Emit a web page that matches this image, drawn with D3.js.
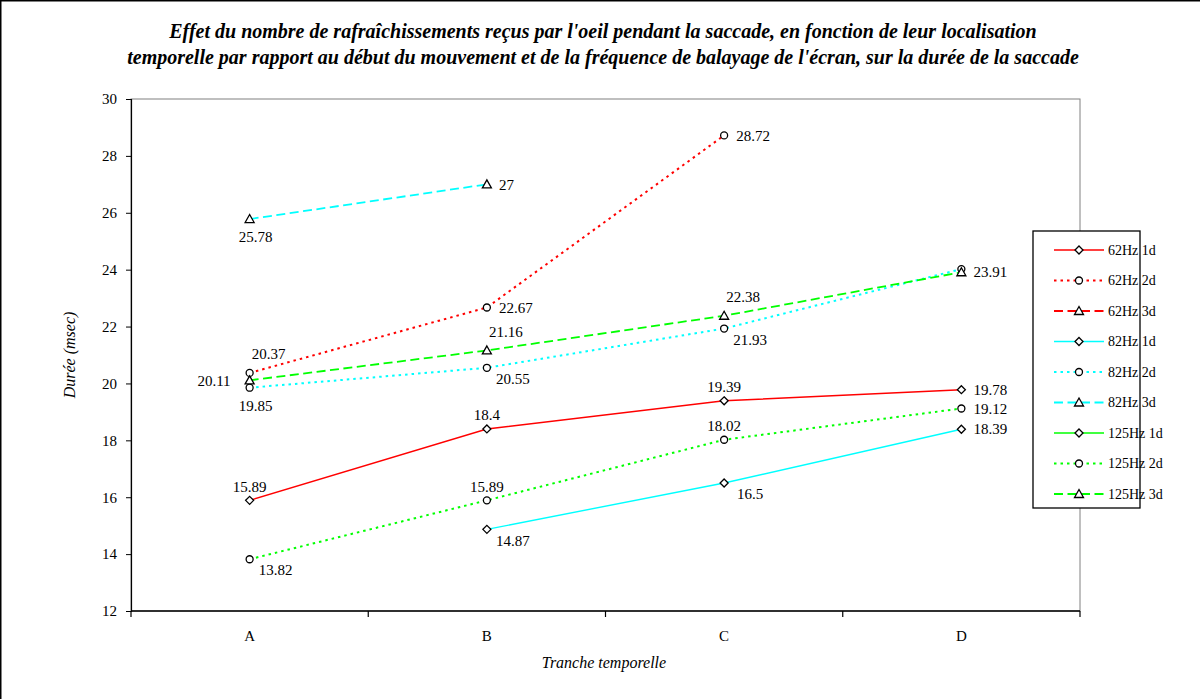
<!DOCTYPE html>
<html>
<head>
<meta charset="utf-8">
<script src="https://cdn.jsdelivr.net/npm/d3@7"></script>
<style>
  html, body { margin: 0; padding: 0; background: #fff; }
  svg { display: block; }
  text { font-family: "Liberation Serif", "Times New Roman", serif; fill: #000; }
</style>
</head>
<body>
<svg id="chart" width="1200" height="699"></svg>
<script>
// ---------- data ----------
const categories = ["A", "B", "C", "D"];
const yTicks = [12, 14, 16, 18, 20, 22, 24, 26, 28, 30];
const seriesNames = ["62Hz 1d", "62Hz 2d", "62Hz 3d", "82Hz 1d", "82Hz 2d", "82Hz 3d", "125Hz 1d", "125Hz 2d", "125Hz 3d"];

const v62_1d  = [15.89, 18.4, 19.39, 19.78];
const v62_2d  = [20.37, 22.67, 28.72, null];
const v62_3d  = [null, null, null, null];
const v82_1d  = [null, 14.87, 16.5, 18.39];
const v82_2d  = [19.85, 20.55, 21.93, 24.02];
const v82_3d  = [25.78, 27, null, null];
const v125_1d = [null, null, null, null];
const v125_2d = [13.82, 15.89, 18.02, 19.12];
const v125_3d = [20.11, 21.16, 22.38, 23.91];

// label placement for each point (null = no label)
const p62_1d  = ["above", "above", "above", "right"];
const p62_2d  = ["aboveRight", "right", "right", null];
const p62_3d  = [null, null, null, null];
const p82_1d  = [null, "belowRight", "belowRight", "right"];
const p82_2d  = ["below", "belowRight", "belowRight", null];
const p82_3d  = ["below", "right", null, null];
const p125_1d = [null, null, null, null];
const p125_2d = ["belowRight", "above", "above", "right"];
const p125_3d = ["left", "aboveRight", "aboveRight", "right"];

const seriesValues = [v62_1d, v62_2d, v62_3d, v82_1d, v82_2d, v82_3d, v125_1d, v125_2d, v125_3d];
const seriesPlacements = [p62_1d, p62_2d, p62_3d, p82_1d, p82_2d, p82_3d, p125_1d, p125_2d, p125_3d];

// ---------- styles ----------
const colors = { "62Hz": "#ff0000", "82Hz": "#00ffff", "125Hz": "#00ff00" };
const lineStyles = {
  "1d": { dash: null, width: 1.4, marker: "diamond" },
  "2d": { dash: "2.5,4", width: 2, marker: "circle" },
  "3d": { dash: "9,4.5", width: 1.8, marker: "triangle" }
};
const labelOffsets = {
  above: { dx: 0, dy: -14, anchor: "middle" },
  below: { dx: 6, dy: 18, anchor: "middle" },
  right: { dx: 12, dy: 0, anchor: "start" },
  left: { dx: -19, dy: 0, anchor: "end" },
  aboveRight: { dx: 19, dy: -19, anchor: "middle" },
  belowRight: { dx: 26, dy: 11, anchor: "middle" }
};

const series = seriesNames.map((name, i) => {
  const [freq, dim] = name.split(" ");
  return { name, color: colors[freq], style: lineStyles[dim], values: seriesValues[i], placements: seriesPlacements[i] };
});

// ---------- layout ----------
const svg = d3.select("#chart");
const W = 1200, H = 699;
const plot = { left: 131, right: 1080, top: 99, bottom: 611 };

svg.append("rect").attr("x", 0.5).attr("y", 0.5).attr("width", W + 5).attr("height", H + 5)
  .attr("fill", "#fff").attr("stroke", "#000").attr("stroke-width", 2);

const x = d3.scaleBand().domain(categories).range([plot.left, plot.right]).padding(0);
const y = d3.scaleLinear().domain([12, 30]).range([plot.bottom, plot.top]);
const cx = c => x(c) + x.bandwidth() / 2;

// plot area border (gray)
svg.append("rect").attr("x", plot.left).attr("y", plot.top)
  .attr("width", plot.right - plot.left).attr("height", plot.bottom - plot.top)
  .attr("fill", "#fff").attr("stroke", "#808080").attr("stroke-width", 1);

// title
const title = svg.append("text").attr("text-anchor", "middle")
  .style("font-weight", "bold").style("font-style", "italic").style("font-size", "20px");
title.append("tspan").attr("x", 603).attr("y", 38)
  .text("Effet du nombre de rafraîchissements reçus par l'oeil pendant la saccade, en fonction de leur localisation");
title.append("tspan").attr("x", 603).attr("y", 64)
  .text("temporelle par rapport au début du mouvement et de la fréquence de balayage de l'écran, sur la durée de la saccade");

// y axis
const yAxis = d3.axisLeft(y).tickValues(yTicks).tickSize(5).tickPadding(9).tickFormat(d3.format("d"));
const gy = svg.append("g").attr("transform", `translate(${plot.left},0)`).call(yAxis);
gy.select(".domain").attr("stroke", "#000").attr("stroke-width", 1.2);
gy.selectAll(".tick line").attr("stroke", "#000");
gy.selectAll(".tick text").style("font-size", "15px").style("font-family", "Liberation Serif, serif");

// x axis
const gx = svg.append("g").attr("transform", `translate(0,${plot.bottom})`);
gx.append("line").attr("x1", plot.left).attr("x2", plot.right).attr("y1", 0).attr("y2", 0)
  .attr("stroke", "#000").attr("stroke-width", 1.5);
const boundaries = categories.map(c => x(c)).concat([x(categories[categories.length - 1]) + x.bandwidth()]);
gx.selectAll("line.tk").data(boundaries).enter().append("line").attr("class", "tk")
  .attr("x1", d => d).attr("x2", d => d).attr("y1", 0).attr("y2", 6)
  .attr("stroke", "#000").attr("stroke-width", 1.2);
gx.selectAll("text.cat").data(categories).enter().append("text").attr("class", "cat")
  .attr("x", d => cx(d)).attr("y", 30).attr("text-anchor", "middle")
  .style("font-size", "15px").text(d => d);

// axis titles
svg.append("text").attr("x", 604).attr("y", 668).attr("text-anchor", "middle")
  .style("font-style", "italic").style("font-size", "16px").text("Tranche temporelle");
svg.append("text").attr("transform", "translate(75,355) rotate(-90)").attr("text-anchor", "middle")
  .style("font-style", "italic").style("font-size", "16px").text("Durée (msec)");

// markers
function drawMarker(g, type, px, py) {
  if (type === "diamond") {
    g.append("path").attr("d", `M${px},${py - 4}L${px + 4},${py}L${px},${py + 4}L${px - 4},${py}Z`)
      .attr("fill", "#fff").attr("stroke", "#000").attr("stroke-width", 1.3);
  } else if (type === "circle") {
    g.append("circle").attr("cx", px).attr("cy", py).attr("r", 3.5)
      .attr("fill", "#fff").attr("stroke", "#000").attr("stroke-width", 1.3);
  } else {
    g.append("path").attr("d", `M${px},${py - 4.5}L${px + 4.5},${py + 3.5}L${px - 4.5},${py + 3.5}Z`)
      .attr("fill", "#fff").attr("stroke", "#000").attr("stroke-width", 1.3);
  }
}

const line = d3.line().defined(d => d.v != null).x(d => cx(d.c)).y(d => y(d.v));
const gLines = svg.append("g");
const gMarks = svg.append("g");
const gLabels = svg.append("g");

series.forEach(s => {
  const pts = categories.map((c, i) => ({ c, v: s.values[i], p: s.placements[i] }));
  gLines.append("path").datum(pts).attr("d", line).attr("fill", "none")
    .attr("stroke", s.color).attr("stroke-width", s.style.width)
    .attr("stroke-dasharray", s.style.dash);
  pts.filter(d => d.v != null).forEach(d => {
    drawMarker(gMarks, s.style.marker, cx(d.c), y(d.v));
    if (d.p) {
      const o = labelOffsets[d.p];
      gLabels.append("text").attr("x", cx(d.c) + o.dx).attr("y", y(d.v) + o.dy)
        .attr("dy", "0.35em").attr("text-anchor", o.anchor)
        .style("font-size", "15px").text(d.v);
    }
  });
});

// legend
const legend = { x: 1033, y: 231, w: 107, h: 277 };
const gl = svg.append("g");
gl.append("rect").attr("x", legend.x).attr("y", legend.y).attr("width", legend.w).attr("height", legend.h)
  .attr("fill", "#fff").attr("stroke", "#000").attr("stroke-width", 1.3);
const ly = d3.scalePoint().domain(seriesNames).range([legend.y + 19, legend.y + 263]);
series.forEach(s => {
  const yy = ly(s.name);
  gl.append("line").attr("x1", legend.x + 21).attr("x2", legend.x + 71).attr("y1", yy).attr("y2", yy)
    .attr("stroke", s.color).attr("stroke-width", s.style.width).attr("stroke-dasharray", s.style.dash);
  drawMarker(gl, s.style.marker, legend.x + 46, yy);
  gl.append("text").attr("x", legend.x + 75).attr("y", yy).attr("dy", "0.35em")
    .style("font-size", "14px").text(s.name);
});
</script>
</body>
</html>
